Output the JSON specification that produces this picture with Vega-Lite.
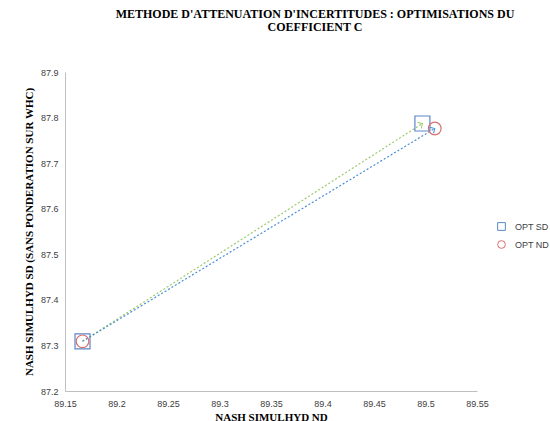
{
  "$schema": "https://vega.github.io/schema/vega-lite/v6.json",
  "width": 412,
  "height": 319,
  "autosize": "none",
  "padding": {"left": 65, "top": 72, "right": 73, "bottom": 30},
  "background": "white",
  "title": {
    "text": ["METHODE D'ATTENUATION D'INCERTITUDES : OPTIMISATIONS DU", "COEFFICIENT  C"],
    "anchor": "middle",
    "dx": 44,
    "offset": 34
  },
  "data": {
    "values": [
      {"series": "OPT SD", "x": 89.167, "y": 87.309},
      {"series": "OPT SD", "x": 89.497, "y": 87.787},
      {"series": "OPT ND", "x": 89.167, "y": 87.309},
      {"series": "OPT ND", "x": 89.509, "y": 87.776}
    ]
  },
  "encoding": {
    "x": {
      "field": "x",
      "type": "quantitative",
      "scale": {"domain": [89.15, 89.55], "nice": false, "zero": false},
      "axis": {
        "title": "NASH SIMULHYD ND",
        "values": [89.15, 89.2, 89.25, 89.3, 89.35, 89.4, 89.45, 89.5, 89.55],
        "format": ".2~f",
        "labelFlush": false,
        "labelPadding": 8,
        "titlePadding": 3
      }
    },
    "y": {
      "field": "y",
      "type": "quantitative",
      "scale": {"domain": [87.2, 87.9], "nice": false, "zero": false},
      "axis": {
        "title": "NASH SIMULHYD  SD (SANS PONDERATION SUR WHC)",
        "values": [87.2, 87.3, 87.4, 87.5, 87.6, 87.7, 87.8, 87.9],
        "format": ".1f",
        "labelFlush": false,
        "labelPadding": 7,
        "titlePadding": 6
      }
    }
  },
  "layer": [
    {
      "transform": [{"filter": "datum.series === 'OPT SD'"}],
      "mark": {"type": "line", "strokeDash": [2, 2], "strokeWidth": 1.2, "color": "#9BCB6B"},
      "encoding": {"order": {"field": "x", "type": "quantitative"}}
    },
    {
      "transform": [{"filter": "datum.series === 'OPT ND'"}],
      "mark": {"type": "line", "strokeDash": [2, 2], "strokeWidth": 1.2, "color": "#4A8FD6"},
      "encoding": {"order": {"field": "x", "type": "quantitative"}}
    },
    {
      "transform": [{"filter": "datum.series === 'OPT SD' && datum.x > 89.3"}],
      "mark": {"type": "point", "shape": "M-1,-1L0,0L-1,1", "filled": false, "strokeWidth": 1, "size": 50, "opacity": 1, "color": "#9BCB6B", "angle": 327.3}
    },
    {
      "transform": [{"filter": "datum.series === 'OPT ND' && datum.x > 89.3"}],
      "mark": {"type": "point", "shape": "M-1,-1L0,0L-1,1", "filled": false, "strokeWidth": 1, "size": 50, "opacity": 1, "color": "#4A8FD6", "angle": 328.8}
    },
    {
      "transform": [{"filter": "datum.series === 'OPT SD'"}],
      "mark": {"type": "point", "filled": false, "strokeWidth": 1.2, "opacity": 1, "size": 225},
      "encoding": {
        "shape": {
          "field": "series",
          "type": "nominal",
          "scale": {"domain": ["OPT SD", "OPT ND"], "range": ["square", "circle"]},
          "legend": {"title": null}
        },
        "stroke": {
          "field": "series",
          "type": "nominal",
          "scale": {"domain": ["OPT SD", "OPT ND"], "range": ["#5B87C8", "#D9706D"]},
          "legend": {"title": null}
        }
      }
    },
    {
      "transform": [{"filter": "datum.series === 'OPT ND'"}],
      "mark": {"type": "point", "filled": false, "strokeWidth": 1.2, "opacity": 1, "size": 160},
      "encoding": {
        "shape": {
          "field": "series",
          "type": "nominal",
          "scale": {"domain": ["OPT SD", "OPT ND"], "range": ["square", "circle"]},
          "legend": {"title": null}
        },
        "stroke": {
          "field": "series",
          "type": "nominal",
          "scale": {"domain": ["OPT SD", "OPT ND"], "range": ["#5B87C8", "#D9706D"]},
          "legend": {"title": null}
        }
      }
    }
  ],
  "config": {
    "view": {"stroke": null},
    "title": {
      "font": "Liberation Serif",
      "fontSize": 12,
      "fontWeight": "bold",
      "color": "#000000",
      "lineHeight": 13
    },
    "axis": {
      "grid": false,
      "ticks": false,
      "domainColor": "#BFBFBF",
      "labelFont": "Liberation Sans",
      "labelFontSize": 9,
      "labelColor": "#404040",
      "titleFont": "Liberation Serif",
      "titleFontSize": 11,
      "titleFontWeight": "bold",
      "titleColor": "#000000"
    },
    "legend": {
      "orient": "none",
      "legendX": 432,
      "legendY": 150,
      "labelFont": "Liberation Sans",
      "labelFontSize": 9,
      "labelColor": "#404040",
      "labelOffset": 9,
      "symbolSize": 60,
      "rowPadding": 5,
      "symbolStrokeWidth": 1
    }
  }
}
